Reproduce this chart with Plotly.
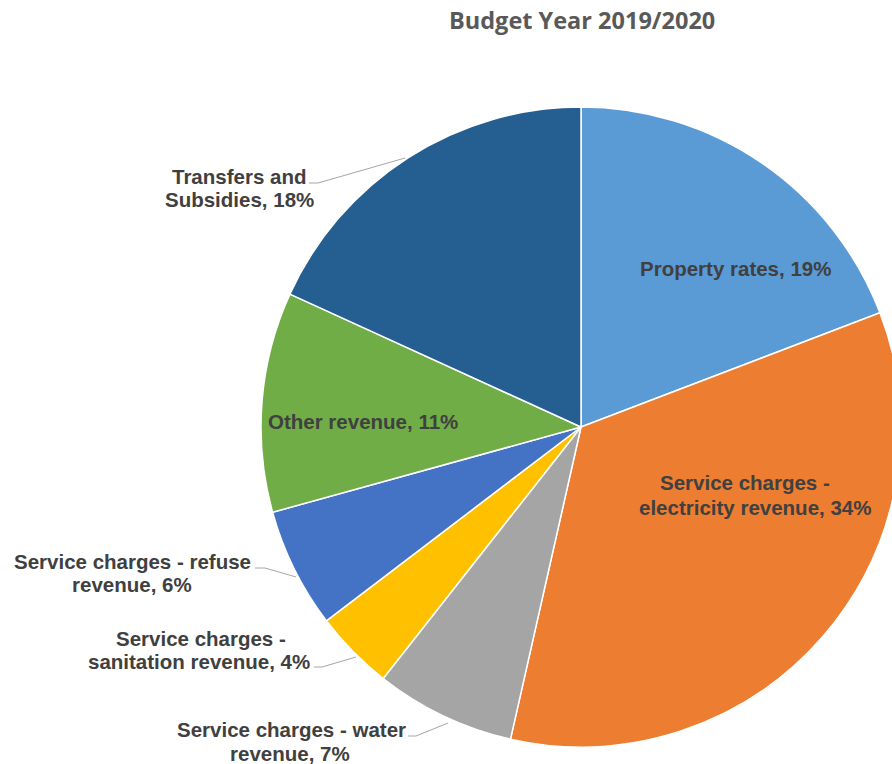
import plotly.graph_objects as go

# Revenue split for the budget year, in percent
categories = [
    "Property rates",
    "Service charges - electricity revenue",
    "Service charges - water revenue",
    "Service charges - sanitation revenue",
    "Service charges - refuse revenue",
    "Other revenue",
    "Transfers and Subsidies",
]
shares = [19, 34, 7, 4, 6, 11, 18]
label_lines = [
    ["Property rates"],
    ["Service charges -", "electricity revenue"],
    ["Service charges - water", "revenue"],
    ["Service charges -", "sanitation revenue"],
    ["Service charges - refuse", "revenue"],
    ["Other revenue"],
    ["Transfers and", "Subsidies"],
]
colors = ["#5B9BD5", "#ED7D31", "#A5A5A5", "#FFC000", "#4472C4", "#70AD47", "#255E91"]

W, H = 910, 764


def px(x):
    return x / W


def py(y):
    return 1 - y / H


fig = go.Figure(
    go.Pie(
        labels=categories,
        values=shares,
        sort=False,
        direction="clockwise",
        rotation=0,
        marker=dict(colors=colors, line=dict(color="white", width=1.5)),
        textinfo="none",
        hoverinfo="label+value",
        showlegend=False,
        domain=dict(x=[px(261), px(901)], y=[py(747), py(107)]),
    )
)

# Pixel centres of every label line, one list per slice
line_pos = [
    [(735, 268)],
    [(745, 482), (755, 507)],
    [(291, 729), (290, 753)],
    [(201, 638), (199, 661)],
    [(132, 561), (132, 584)],
    [(363, 421)],
    [(239, 176), (239, 200)],
]
# Leader lines from the outer labels to their slices
leaders = [
    [(408, 736), (416, 736), (448, 723)],
    [(314, 667), (322, 667), (356, 657)],
    [(255, 568), (265, 568), (296, 577)],
    [(309, 183), (318, 183), (405, 158)],
]

label_font = dict(family="Liberation Sans, Arial", size=20.5, color="#404040")

annotations = []
for i, positions in enumerate(line_pos):
    lines = list(label_lines[i])
    lines[-1] = f"{lines[-1]}, {shares[i]}%"
    for text, (cx, cy) in zip(lines, positions):
        annotations.append(
            dict(
                x=px(cx), y=py(cy), xref="paper", yref="paper",
                text=f"<b>{text}</b>", showarrow=False,
                xanchor="center", yanchor="middle",
                font=label_font,
            )
        )

annotations.append(
    dict(
        x=px(582), y=py(20), xref="paper", yref="paper",
        text="<b>Budget Year 2019/2020</b>", showarrow=False,
        xanchor="center", yanchor="middle",
        font=dict(family="Open Sans", size=23.5, color="#595959"),
    )
)

shapes = []
for pts in leaders:
    path = "M " + " L ".join(f"{px(x)},{py(y)}" for x, y in pts)
    shapes.append(dict(type="path", xref="paper", yref="paper", path=path,
                       line=dict(color="#A6A6A6", width=1)))

fig.update_layout(
    width=W, height=H,
    margin=dict(l=0, r=0, t=0, b=0),
    paper_bgcolor="white",
    plot_bgcolor="white",
    annotations=annotations,
    shapes=shapes,
)

fig.write_html(
    "out.html",
    config={"displayModeBar": False},
    post_script="document.body.style.margin='0';document.body.style.overflow='hidden';",
)
